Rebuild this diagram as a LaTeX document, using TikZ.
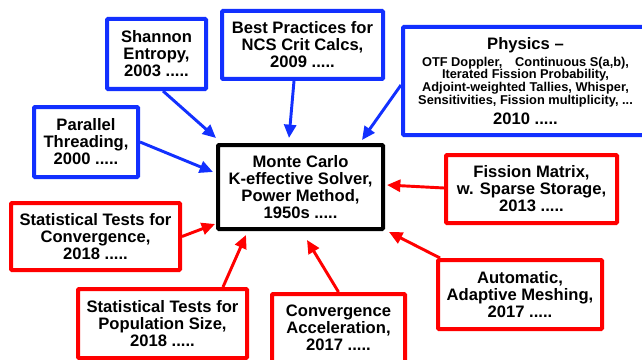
\documentclass[tikz,border=0pt]{standalone}
\usepackage{fontspec}
\setmainfont{Liberation Sans}
\usepackage{tikz}
\usetikzlibrary{arrows.meta,calc}

\definecolor{boxblue}{RGB}{18,48,255}
\definecolor{boxred}{RGB}{255,0,0}
\newcommand{\smalltxt}{\fontsize{9.6}{9.45}\selectfont}

\tikzset{
  txtbox/.style={rectangle, rounded corners=0.8pt, line width=3pt, fill=white,
    align=center, inner sep=0pt, font=\bfseries\fontsize{12.45}{12.75}\selectfont},
  bluebox/.style={txtbox, draw=boxblue},
  redbox/.style={txtbox, draw=boxred},
  mainbox/.style={txtbox, draw=black},
  bluearr/.style={draw=boxblue, line width=2.2pt, -{Triangle[length=10pt,width=9pt]}, fill=boxblue},
  redarr/.style={draw=boxred, line width=2.2pt, -{Triangle[length=10pt,width=9pt]}, fill=boxred}
}

\begin{document}
\begin{tikzpicture}[x=0.75pt,y=0.75pt,yscale=-1,xscale=1]
  \useasboundingbox (0,0) rectangle (642,360);

  % Centre box
  \node[mainbox, minimum width=123.75pt, minimum height=63pt] (mc) at (300.5,187)
    {Monte Carlo\\K-effective Solver,\\Power Method,\\1950s .....};

  % Blue boxes
  \node[bluebox, minimum width=74.25pt, minimum height=52.5pt] (shannon) at (156.5,54)
    {Shannon\\Entropy,\\2003 .....};
  \node[bluebox, minimum width=120.75pt, minimum height=51pt] (best) at (302.5,45)
    {Best Practices for\\NCS Crit Calcs,\\2009 .....};
  \node[bluebox, minimum width=183.75pt, minimum height=81pt] (physics) at (525.5,81)
    {Physics --\\
     {\smalltxt OTF Doppler,\quad Continuous S(a,b),}\\[-3.3pt]
     {\smalltxt Iterated Fission Probability,}\\[-3.3pt]
     {\smalltxt Adjoint-weighted Tallies, Whisper,}\\[-3.3pt]
     {\smalltxt Sensitivities, Fission multiplicity, ...}\\[2.6pt]
     2010 .....};
  \node[bluebox, minimum width=78pt, minimum height=52.5pt] (parallel) at (86,142)
    {Parallel\\Threading,\\2000 .....};

  % Red boxes
  \node[redbox, minimum width=128.25pt, minimum height=51pt] (fission) at (531.5,189)
    {Fission Matrix,\\w. Sparse Storage,\\2013 .....};
  \node[redbox, minimum width=126.75pt, minimum height=50.25pt] (statconv) at (95.5,236.5)
    {Statistical Tests for\\Convergence,\\2018 .....};
  \node[redbox, minimum width=123pt, minimum height=51.75pt] (auto) at (520,294.5)
    {Automatic,\\Adaptive Meshing,\\2017 .....};
  \node[redbox, minimum width=126.75pt, minimum height=51.75pt] (statpop) at (162.5,323.5)
    {Statistical Tests for\\Population Size,\\2018 .....};
  \node[redbox, minimum width=99.75pt, minimum height=51pt] (convacc) at (338.5,328)
    {Convergence\\Acceleration,\\2017 .....};

  % Arrows into the centre box
  \draw[bluearr] ($(shannon.south)+(6.5,0)$) -- ($(mc.north west)+(0,-5)$);
  \draw[bluearr] (parallel.east) -- ($(mc.west)+(-3,-15)$);
  \draw[bluearr] ($(best.south)+(-8.5,0)$) -- ($(mc.north)+(-11.5,-5)$);
  \draw[bluearr] ($(physics.west)+(0,4)$) -- ($(mc.north east)+(-23,-3)$);
  \draw[redarr] ($(fission.west)+(0,-1)$) -- ($(mc.east)+(2,-2)$);
  \draw[redarr] (statconv.east) -- ($(mc.south west)+(-1,-7)$);
  \draw[redarr] ($(statpop.north)+(60.5,0)$) -- ($(mc.south west)+(30,4)$);
  \draw[redarr] (convacc.north) -- ($(mc.south)+(6.5,9)$);
  \draw[redarr] ($(auto.north west)+(4,0)$) -- ($(mc.south east)+(4,1)$);
\end{tikzpicture}
\end{document}
